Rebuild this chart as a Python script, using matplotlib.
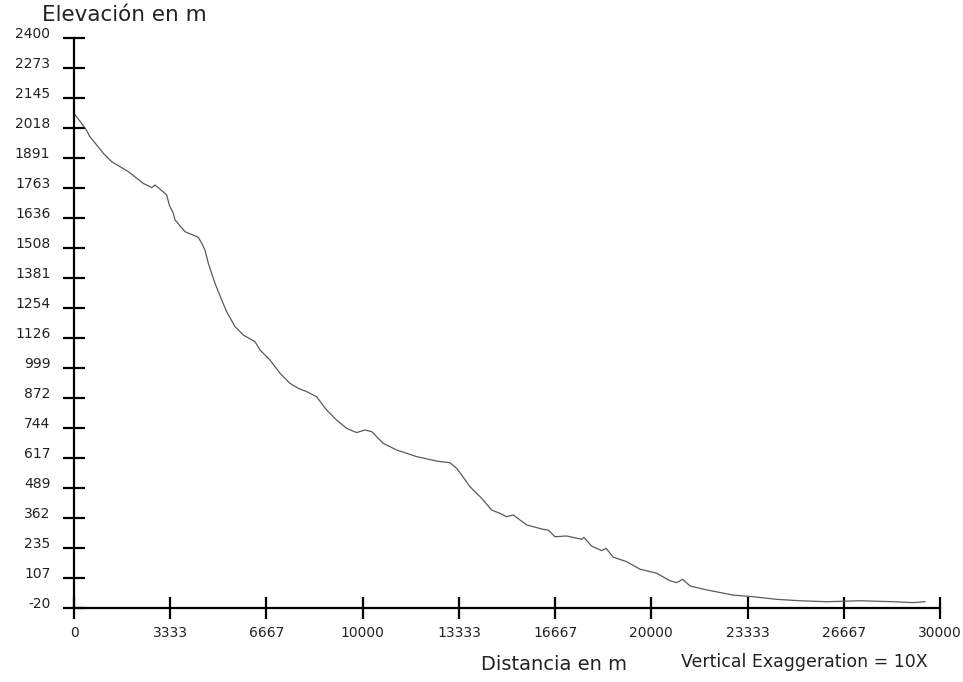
import matplotlib
matplotlib.use("Agg")
import matplotlib.pyplot as plt
import matplotlib.transforms as mtransforms

### profile data (distance m, elevation m)
distancia = [35, 381, 554, 785, 1016, 1306, 1594, 1882, 2171, 2401, 2692, 2806,
             2979, 3211, 3302, 3440, 3499, 3845, 4306, 4423, 4538, 4653, 4884,
             5116, 5289, 5577, 5866, 6270, 6443, 6790, 7136, 7482, 7770, 8059,
             8405, 8752, 9098, 9444, 9793, 10080, 10313, 10715, 11178, 11871,
             12564, 13025, 13257, 13429, 13718, 14123, 14469, 14757, 14988, 15218,
             15680, 16257, 16430, 16662, 17066, 17586, 17666, 17933, 18280, 18429,
             18682, 19144, 19606, 20184, 20646, 20877, 21086, 21340, 21917, 22841,
             23533, 24341, 25149, 26074, 27229, 28383, 29074, 29479]
elevacion = [2075, 2020, 1982, 1947, 1912, 1876, 1855, 1834, 1806, 1784, 1766, 1777,
             1760, 1735, 1692, 1657, 1629, 1579, 1555, 1530, 1501, 1445, 1360,
             1289, 1239, 1176, 1140, 1112, 1077, 1034, 978, 935, 914, 900,
             878, 822, 779, 744, 726, 737, 730, 680, 652, 624,
             605, 598, 574, 546, 496, 447, 397, 383, 369, 376,
             334, 315, 312, 284, 287, 273, 281, 244, 225, 235,
             197, 178, 146, 129, 97, 89, 103, 75, 58, 36,
             29, 18, 12, 8, 12, 8, 4, 8]

yticks = [-20, 107, 235, 362, 489, 617, 744, 872, 999, 1126, 1254, 1381,
          1508, 1636, 1763, 1891, 2018, 2145, 2273, 2400]
xticks = [0, 3333.33, 6666.67, 10000, 13333.33, 16666.67, 20000,
          23333.33, 26666.67, 30000]
xlabels = ["0", "3333", "6667", "10000", "13333", "16667", "20000",
           "23333", "26667", "30000"]

plt.rcParams["font.family"] = ["DejaVu Sans"]

W, H = 963, 682
fig = plt.figure(figsize=(W / 100, H / 100), dpi=100)
ax = fig.add_axes([74 / W, (H - 608.3) / H, (940 - 74) / W, (608.3 - 38.3) / H])

ax.plot(distancia, elevacion, color="#5a5a5a", linewidth=0.9)

ax.set_xlim(0, 30000)
ax.set_ylim(-20, 2400)
ax.set_xticks(xticks)
ax.set_xticklabels(xlabels)
ax.set_yticks(yticks)
ax.set_yticklabels([str(v) for v in yticks])

for s in ["top", "right"]:
    ax.spines[s].set_visible(False)
for s in ["left", "bottom"]:
    ax.spines[s].set_linewidth(1.6)
ax.tick_params(direction="inout", length=16, width=1.6, labelsize=10,
               color="black", labelcolor="#222222")
ax.tick_params(axis="y", pad=9)
ax.tick_params(axis="x", pad=4.5)

### y labels sit a bit above their ticks in the original
off = mtransforms.ScaledTranslation(0, 4 / 72, fig.dpi_scale_trans)
for lab in ax.get_yticklabels():
    lab.set_transform(lab.get_transform() + off)

fig.text(124.5 / W, 1 - 15 / H, "Elevación en m", fontsize=15.5,
         ha="center", va="center", color="#222222")
fig.text(554 / W, 1 - 665 / H, "Distancia en m", fontsize=14,
         ha="center", va="center", color="#222222")
fig.text(804 / W, 1 - 662 / H, "Vertical Exaggeration = 10X", fontsize=12.5,
         ha="center", va="center", color="#222222")

plt.savefig("out.png", dpi=100)
plt.close()
